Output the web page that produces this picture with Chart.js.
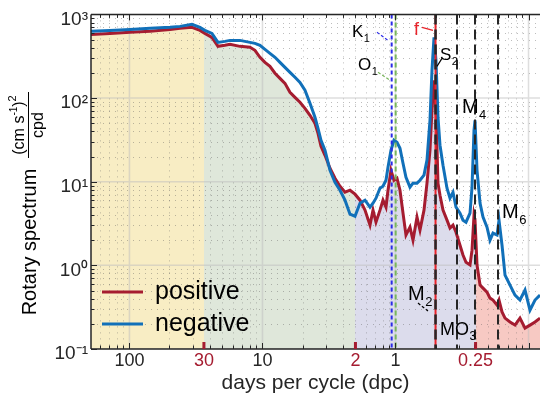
<!DOCTYPE html>
<html>
<head>
<meta charset="utf-8">
<title>Rotary spectrum</title>
<script src="https://cdn.jsdelivr.net/npm/chart.js@4.4.1/dist/chart.umd.min.js"></script>
<style>
  html, body { margin: 0; padding: 0; background: #ffffff; }
  #box { position: relative; width: 540px; height: 402px; }
</style>
</head>
<body>
<div id="box"><canvas id="spectrum"></canvas></div>
<script>
// frequency (cycles per day) and spectral levels
const freq = [0.00514, 0.00714, 0.0101, 0.0143, 0.0202, 0.0240, 0.0295, 0.0339, 0.0369, 0.0417,
  0.0463, 0.0522, 0.0570, 0.0677, 0.0805, 0.0878, 0.0958, 0.1044, 0.1138, 0.1242,
  0.1354, 0.1476, 0.1610, 0.1755, 0.1914, 0.2087, 0.2276, 0.2481, 0.2615, 0.2754,
  0.2951, 0.3218, 0.3509, 0.3826, 0.4172, 0.4549, 0.4960, 0.5409, 0.5898, 0.6431,
  0.6774, 0.7136, 0.7647, 0.8055, 0.8484, 0.8784, 0.9251, 0.9743, 1.026, 1.081,
  1.139, 1.199, 1.285, 1.354, 1.451, 1.528, 1.638, 1.725, 1.817, 1.881,
  1.948, 2.016, 2.087, 2.161, 2.276, 2.439, 2.569, 2.706, 2.851, 3.055,
  3.217, 3.389, 3.633, 3.761, 3.893, 3.961, 4.101, 4.321, 4.550, 4.875,
  5.134, 5.408, 5.797, 6.000, 6.322, 6.659, 7.259, 7.915, 8.629, 9.412,
  10.26, 11.19, 12.2];

const negative = [627, 644, 662, 681, 700, 719, 760, 700, 644, 593,
  463, 476, 489, 489, 463, 451, 427, 382, 342, 307,
  267, 233, 203, 177, 154, 124, 86.5, 58.9, 43.5, 31.3,
  23.8, 13.7, 9.86, 7.91, 6.01, 4.09, 3.87, 5.54, 6.01, 4.96,
  5.54, 6.35, 8.37, 8.84, 10.4, 14.9, 23.8, 31.3, 29.6, 25.1,
  16.6, 11.3, 8.60, 9.60, 9.60, 10.4, 12.0, 18.1, 54.2, 214,
  531, 282, 58.9, 27.3, 15.7, 8.37, 6.35, 7.49, 4.96, 4.21,
  3.47, 3.28, 4.21, 8.60, 41.2, 54.2, 13.7, 5.54, 3.77, 2.86,
  2.00, 2.43, 2.30, 3.47, 1.74, 0.765, 0.581, 0.441, 0.385, 0.506,
  0.292, 0.385, 0.441];

const positive = [577, 593, 610, 627, 662, 681, 700, 644, 593, 531,
  415, 427, 438, 415, 404, 372, 307, 267, 239, 198,
  172, 150, 117, 102, 89.0, 75.4, 62.2, 49.9, 37.9, 26.5,
  20.7, 14.5, 11.0, 8.84, 7.49, 7.91, 7.09, 6.01, 4.57, 3.02,
  4.57, 3.28, 4.57, 6.01, 4.96, 7.91, 13.7, 10.4, 11.0, 7.91,
  4.21, 2.30, 2.86, 2.00, 3.77, 2.64, 4.57, 9.60, 23.8, 71.4,
  163, 71.4, 9.60, 6.90, 4.57, 3.47, 2.79, 3.02, 2.49, 1.74,
  1.33, 1.09, 1.01, 1.52, 3.98, 3.47, 1.01, 0.581, 0.535, 0.479,
  0.406, 0.385, 0.335, 0.385, 0.277, 0.234, 0.210, 0.193, 0.234, 0.178,
  0.193, 0.210, 0.234];

// axis ticks: x is frequency, labelled with the period in days
const xTickFreq = [0.01, 0.0363, 0.1, 0.5, 1, 4];
const xTickLabels = ['100', '30', '10', '2', '1', '0.25'];
const xTickRed = [false, true, false, true, false, true];
const yTicks = [0.1, 1, 10, 100, 1000];
const yTickLabels = ['10\u207B\u00B9', '10\u2070', '10\u00B9', '10\u00B2', '10\u00B3'];

// frequency bands shaded under the curve
const bandEdges = [0.0363, 0.5, 4];
const bandColors = ['#f8edc4', '#dfe7da', '#dcdcec', '#f7c9c3'];

// tidal constituents / inertial frequency
const constituentFreq = [0.936, 1.003, 2.0, 2.0, 2.90, 3.96, 5.90];
const constituentKind = ['K1', 'O1', 'f', 'M2', 'MO3', 'M4', 'M6'];

const FONT = '"Liberation Sans", Arial, Helvetica, sans-serif';
const INK = '#262626';
const RED = '#a51c30';
const BLUE = '#1170b9';

const lineStyle = {
  K1: { color: '#2b2be8', dash: [4, 3], width: 2 },
  O1: { color: '#79b65b', dash: [5, 3], width: 2 },
  f: { color: '#e8232a', dash: [], width: 2 },
  M2: { color: INK, dash: [10, 5], width: 2.5 },
  MO3: { color: INK, dash: [10, 5], width: 2 },
  M4: { color: INK, dash: [10, 5], width: 2 },
  M6: { color: INK, dash: [10, 5], width: 2 }
};

// text labels, anchored in data space (frequency, level) at their baseline start
const labels = [
  { text: 'K', sub: '1', f: 0.471, v: 531, size: 17, color: '#000' },
  { text: 'O', sub: '1', f: 0.523, v: 214, size: 17, color: '#000' },
  { text: 'f', sub: '', f: 1.377, v: 561, size: 18, color: '#e8232a' },
  { text: 'S', sub: '2', f: 2.161, v: 282, size: 17, color: '#000' },
  { text: 'M', sub: '4', f: 3.16, v: 65.8, size: 20, color: '#000' },
  { text: 'M', sub: '6', f: 6.32, v: 3.67, size: 20, color: '#000' },
  { text: 'M', sub: '2', f: 1.242, v: 0.385, size: 20, color: '#000' },
  { text: 'MO', sub: '3', f: 2.161, v: 0.147, size: 18, color: '#000' }
];

const leaders = [
  { from: [0.726, 610], to: [0.878, 489], color: '#2b2be8', dash: [3, 2] },
  { from: [0.739, 203], to: [0.909, 163], color: '#79b65b', dash: [3, 2] },
  { from: [1.582, 700], to: [1.914, 644], color: '#e8232a', dash: [] },
  { from: [2.236, 298], to: [2.051, 239], color: '#000', dash: [] },
  { from: [1.476, 0.354], to: [1.755, 0.284], color: '#000', dash: [3, 2] }
];

const legendRows = [
  { label: 'positive', color: RED },
  { label: 'negative', color: BLUE }
];

function logSteps(min, max) {
  const out = [];
  for (let k = Math.floor(Math.log10(min)); k <= Math.ceil(Math.log10(max)); k++) {
    for (let m = 1; m <= 9; m++) {
      const v = m * Math.pow(10, k);
      if (v >= min * 0.999 && v <= max * 1.001) out.push({ v: v, major: m === 1 });
    }
  }
  return out;
}

function bandFill(context) {
  const chart = context.chart;
  const a = chart.chartArea;
  if (!a || !chart.scales.x) return bandColors[0];
  const xs = chart.scales.x;
  const w = a.right - a.left;
  const g = chart.ctx.createLinearGradient(a.left, 0, a.right, 0);
  let prev = 0;
  bandEdges.forEach((e, i) => {
    const t = Math.min(1, Math.max(0, (xs.getPixelForValue(e) - a.left) / w));
    g.addColorStop(prev, bandColors[i]);
    g.addColorStop(t, bandColors[i]);
    prev = t;
  });
  g.addColorStop(prev, bandColors[bandColors.length - 1]);
  g.addColorStop(1, bandColors[bandColors.length - 1]);
  return g;
}

const gridPlugin = {
  id: 'logGrid',
  beforeDatasetsDraw(chart) {
    const { ctx, chartArea: a, scales: { x, y } } = chart;
    const xs = logSteps(x.min, x.max);
    const ys = logSteps(y.min, y.max);
    ctx.save();
    ctx.beginPath();
    ctx.rect(a.left, a.top, a.right - a.left, a.bottom - a.top);
    ctx.clip();

    ctx.lineWidth = 1;
    ctx.setLineDash([1, 5]);
    ctx.strokeStyle = 'rgba(90,90,90,0.4)';
    ctx.beginPath();
    xs.filter(s => !s.major).forEach(s => {
      const p = Math.round(x.getPixelForValue(s.v)) + 0.5;
      ctx.moveTo(p, a.top); ctx.lineTo(p, a.bottom);
    });
    ys.filter(s => !s.major).forEach(s => {
      const p = Math.round(y.getPixelForValue(s.v)) + 0.5;
      ctx.moveTo(a.left, p); ctx.lineTo(a.right, p);
    });
    ctx.stroke();

    ctx.setLineDash([]);
    ctx.lineWidth = 1.5;
    ctx.strokeStyle = 'rgba(190,190,190,0.5)';
    ctx.beginPath();
    xs.filter(s => s.major).forEach(s => {
      const p = x.getPixelForValue(s.v);
      ctx.moveTo(p, a.top); ctx.lineTo(p, a.bottom);
    });
    ys.filter(s => s.major).forEach(s => {
      const p = y.getPixelForValue(s.v);
      ctx.moveTo(a.left, p); ctx.lineTo(a.right, p);
    });
    ctx.stroke();
    ctx.restore();
  }
};

function drawLabel(ctx, lb, px, py) {
  ctx.fillStyle = lb.color;
  ctx.font = lb.size + 'px ' + FONT;
  ctx.fillText(lb.text, px, py);
  if (lb.sub) {
    const w = ctx.measureText(lb.text).width;
    ctx.font = Math.round(lb.size * 0.65) + 'px ' + FONT;
    ctx.fillText(lb.sub, px + w + 0.5, py + lb.size * 0.28);
  }
}

function drawRich(ctx, parts, cx, cy) {
  let total = 0;
  parts.forEach(p => { ctx.font = p.size + 'px ' + FONT; total += ctx.measureText(p.t).width; });
  let x = cx - total / 2;
  parts.forEach(p => {
    ctx.font = p.size + 'px ' + FONT;
    ctx.fillText(p.t, x, cy + (p.dy || 0));
    x += ctx.measureText(p.t).width;
  });
}

const overlayPlugin = {
  id: 'overlay',
  afterDraw(chart) {
    const { ctx, chartArea: a, scales: { x, y } } = chart;
    ctx.save();
    ctx.beginPath();
    ctx.rect(a.left, a.top, a.right - a.left, a.bottom - a.top);
    ctx.clip();

    // constituent lines
    constituentFreq.forEach((f, i) => {
      const st = lineStyle[constituentKind[i]];
      const p = x.getPixelForValue(f);
      ctx.strokeStyle = st.color;
      ctx.lineWidth = st.width;
      ctx.setLineDash(st.dash);
      ctx.beginPath();
      ctx.moveTo(p, a.top);
      ctx.lineTo(p, a.bottom);
      ctx.stroke();
    });

    // leader lines
    ctx.lineWidth = 1.2;
    leaders.forEach(ld => {
      ctx.strokeStyle = ld.color;
      ctx.setLineDash(ld.dash);
      ctx.beginPath();
      ctx.moveTo(x.getPixelForValue(ld.from[0]), y.getPixelForValue(ld.from[1]));
      ctx.lineTo(x.getPixelForValue(ld.to[0]), y.getPixelForValue(ld.to[1]));
      ctx.stroke();
    });
    ctx.setLineDash([]);

    // labels
    ctx.textAlign = 'left';
    ctx.textBaseline = 'alphabetic';
    labels.forEach(lb => drawLabel(ctx, lb, x.getPixelForValue(lb.f), y.getPixelForValue(lb.v)));

    // legend
    legendRows.forEach((row, i) => {
      const ly = a.bottom - 57 + i * 32;
      ctx.strokeStyle = row.color;
      ctx.lineWidth = 3;
      ctx.beginPath();
      ctx.moveTo(a.left + 11, ly);
      ctx.lineTo(a.left + 52, ly);
      ctx.stroke();
      ctx.fillStyle = '#000';
      ctx.font = '25px ' + FONT;
      ctx.fillText(row.label, a.left + 64, ly + 7);
    });
    ctx.restore();

    // frame and inward ticks
    ctx.save();
    ctx.strokeStyle = INK;
    ctx.lineWidth = 1.5;
    ctx.beginPath();
    ctx.moveTo(a.left, a.top); ctx.lineTo(a.right, a.top);
    ctx.moveTo(a.left, a.top); ctx.lineTo(a.left, a.bottom);
    ctx.moveTo(a.left, a.bottom); ctx.lineTo(a.right, a.bottom);
    ctx.stroke();
    ctx.lineWidth = 1;
    ctx.beginPath();
    logSteps(x.min, x.max).forEach(s => {
      const p = Math.round(x.getPixelForValue(s.v)) + 0.5;
      const len = s.major ? 6 : 3.5;
      ctx.moveTo(p, a.top); ctx.lineTo(p, a.top + len);
      ctx.moveTo(p, a.bottom); ctx.lineTo(p, a.bottom - len);
    });
    logSteps(y.min, y.max).forEach(s => {
      const p = Math.round(y.getPixelForValue(s.v)) + 0.5;
      const len = s.major ? 6 : 3.5;
      ctx.moveTo(a.left, p); ctx.lineTo(a.left + len, p);
    });
    ctx.stroke();

    // band boundary marks
    ctx.strokeStyle = RED;
    ctx.lineWidth = 3;
    ctx.beginPath();
    xTickFreq.forEach((f, i) => {
      if (!xTickRed[i]) return;
      const p = x.getPixelForValue(f);
      ctx.moveTo(p, a.bottom - 7); ctx.lineTo(p, a.bottom);
    });
    ctx.stroke();
    ctx.restore();

    // y-axis title with fraction
    ctx.save();
    ctx.fillStyle = '#000';
    ctx.textAlign = 'left';
    ctx.textBaseline = 'alphabetic';
    ctx.translate(0, 242);
    ctx.rotate(-Math.PI / 2);
    drawRich(ctx, [{ t: 'Rotary spectrum', size: 20 }], 0, 36);
    ctx.restore();

    ctx.save();
    ctx.fillStyle = '#000';
    ctx.translate(0, 125);
    ctx.rotate(-Math.PI / 2);
    drawRich(ctx, [
      { t: '(cm s', size: 16 },
      { t: '-1', size: 10, dy: -7 },
      { t: ')', size: 16 },
      { t: '2', size: 11, dy: -8 }
    ], 0, 24);
    drawRich(ctx, [{ t: 'cpd', size: 16 }], 0, 43);
    ctx.strokeStyle = '#000';
    ctx.lineWidth = 1;
    ctx.beginPath();
    ctx.moveTo(-33, 28.5);
    ctx.lineTo(33, 28.5);
    ctx.stroke();
    ctx.restore();
  }
};

const toPoints = vals => freq.map((f, i) => ({ x: f, y: vals[i] }));

Chart.defaults.font.family = FONT;

new Chart(document.getElementById('spectrum'), {
  type: 'line',
  data: {
    datasets: [
      {
        label: 'negative',
        data: toPoints(negative),
        borderColor: BLUE,
        borderWidth: 3,
        pointRadius: 0,
        fill: false,
        order: 1
      },
      {
        label: 'positive',
        data: toPoints(positive),
        borderColor: RED,
        borderWidth: 3,
        pointRadius: 0,
        fill: false,
        order: 2
      },
      {
        label: 'bands',
        data: toPoints(positive),
        borderColor: 'rgba(0,0,0,0)',
        borderWidth: 0,
        pointRadius: 0,
        backgroundColor: bandFill,
        fill: 'start',
        order: 3
      }
    ]
  },
  options: {
    responsive: true,
    maintainAspectRatio: false,
    animation: false,
    layout: { padding: { top: 14, right: 0, left: 0, bottom: 0 } },
    plugins: {
      legend: { display: false },
      tooltip: { enabled: false },
      filler: { drawTime: 'beforeDraw' }
    },
    scales: {
      x: {
        type: 'logarithmic',
        min: 0.00514,
        max: 12.2,
        afterBuildTicks: scale => { scale.ticks = xTickFreq.map(v => ({ value: v })); },
        afterFit: scale => { scale.height = 53; },
        grid: { display: false, drawTicks: false },
        border: { display: false },
        ticks: {
          autoSkip: false,
          maxRotation: 0,
          padding: 1,
          font: { size: 18 },
          color: ctx => xTickRed[ctx.index] ? RED : INK,
          callback: (v, i) => xTickLabels[i]
        },
        title: {
          display: true,
          text: 'days per cycle (dpc)',
          color: INK,
          font: { size: 21 },
          padding: { top: 0, bottom: 6 }
        }
      },
      y: {
        type: 'logarithmic',
        min: 0.1,
        max: 1000,
        afterBuildTicks: scale => { scale.ticks = yTicks.map(v => ({ value: v })); },
        afterFit: scale => { scale.width = 91; },
        grid: { display: false, drawTicks: false },
        border: { display: false },
        ticks: {
          padding: 3,
          labelOffset: 5,
          font: { size: 19 },
          color: INK,
          callback: (v, i) => yTickLabels[i]
        }
      }
    }
  },
  plugins: [gridPlugin, overlayPlugin]
});
</script>
</body>
</html>
